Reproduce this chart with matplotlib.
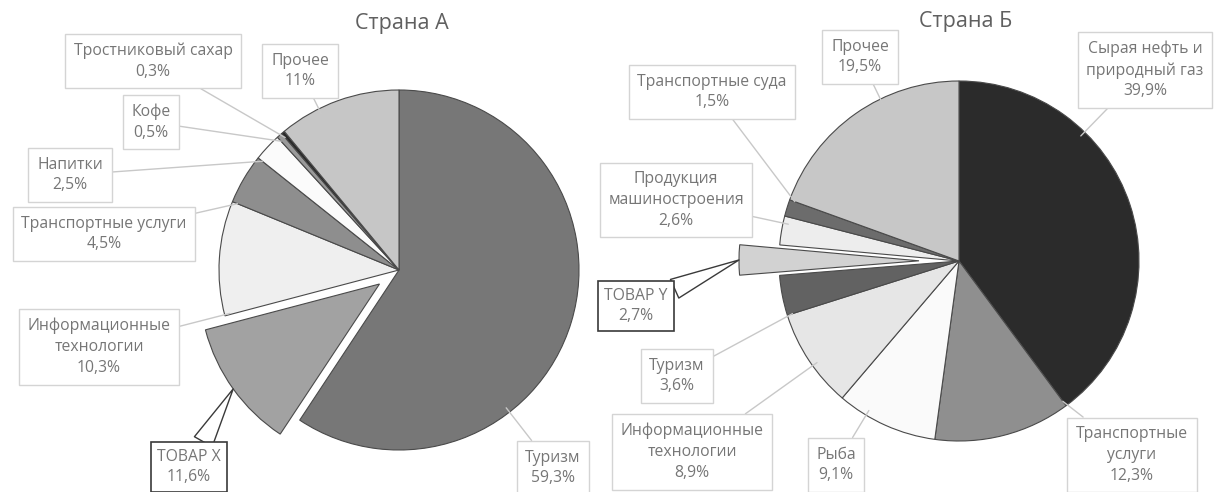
import math
import matplotlib
matplotlib.use("Agg")
import matplotlib.pyplot as plt

plt.rcParams['font.family'] = ['Open Sans', 'DejaVu Sans']

W, H = 1217, 492

# ---------------- data ----------------
title_a = 'Страна А'
labels_a = ['Туризм', 'ТОВАР X', 'Информационные\nтехнологии', 'Транспортные услуги',
            'Напитки', 'Кофе', 'Тростниковый сахар', 'Прочее']
values_a = [59.3, 11.6, 10.3, 4.5, 2.5, 0.5, 0.3, 11.0]

title_b = 'Страна Б'
labels_b = ['Сырая нефть и\nприродный газ', 'Транспортные\nуслуги', 'Рыба',
            'Информационные\nтехнологии', 'Туризм', 'ТОВАР Y',
            'Продукция\nмашиностроения', 'Транспортные суда', 'Прочее']
values_b = [39.9, 12.3, 9.1, 8.9, 3.6, 2.7, 2.6, 1.5, 19.5]

# ---------------- styles / layout ----------------
colors_a = ['#777777', '#a2a2a2', '#efefef', '#8e8e8e', '#fbfbfb', '#9a9a9a', '#2a2a2a', '#c6c6c6']
colors_b = ['#2b2b2b', '#8f8f8f', '#fafafa', '#e6e6e6', '#626262', '#d2d2d2', '#ededed', '#6c6c6c', '#c7c7c7']
explode_a = [0, 24, 0, 0, 0, 0, 0, 0]
explode_b = [0, 0, 0, 0, 0, 40, 0, 0, 0]
highlight_a = [False, True, False, False, False, False, False, False]
highlight_b = [False, False, False, False, False, True, False, False, False]

# label box centres in pixel coords (y downwards)
pos_a = [(553, 468), (189, 467), (99, 347), (104, 234), (70, 175), (151, 122), (153, 61), (300, 71)]
pos_b = [(1145, 70), (1132, 455), (836, 465), (692, 452), (677, 376), (636, 306),
         (676, 200), (712, 92), (860, 57)]

center_a = (399, 270)
center_b = (959, 261)
radius = 180

TEXT = '#767676'
FS = 11.3

fig = plt.figure(figsize=(W / 100, H / 100), dpi=100)
ax = fig.add_axes([0, 0, 1, 1])
ax.set_xlim(0, W)
ax.set_ylim(0, H)
ax.set_aspect('equal')
ax.axis('off')


def fmt(v):
    return f"{v:g}".replace('.', ',') + '%'


def anchor_point(w, px, py, mid=False):
    cx, cy = w.center
    t1, t2 = w.theta1, w.theta2
    if mid:
        a = 0.5 * (t1 + t2)
        r = w.r
    else:
        a = math.degrees(math.atan2(py - cy, px - cx))
        a_rel = (a - t1) % 360
        span = (t2 - t1) % 360 or 360
        if a_rel > span:
            d1 = 360 - a_rel
            d2 = a_rel - span
            a = t1 if d1 < d2 else t2
        else:
            a = t1 + a_rel
        r = w.r * 0.97
    return cx + r * math.cos(math.radians(a)), cy + r * math.sin(math.radians(a))


def draw(values, labels, colors, explode, highlight, pos, center, title, title_xy):
    cx, cy = center
    wedges, _ = ax.pie(values, colors=colors, explode=explode, startangle=90,
                       counterclock=False, center=(cx, H - cy), radius=radius,
                       wedgeprops=dict(edgecolor='#4a4a4a', linewidth=0.8),
                       frame=True)
    for w, lab, v, hl, (px, py) in zip(wedges, labels, values, highlight, pos):
        tx, ty = px, H - py
        ax_, ay_ = anchor_point(w, tx, ty, mid=hl)
        txt = lab + '\n' + fmt(v)
        if hl:
            ax.annotate(txt, xy=(ax_, ay_), xytext=(tx, ty), ha='center', va='center',
                        fontsize=FS, color=TEXT, linespacing=1.4,
                        bbox=dict(boxstyle='square,pad=0.4', fc='white', ec='#3a3a3a', lw=1.2),
                        arrowprops=dict(arrowstyle='wedge,tail_width=1.3,shrink_factor=0.5',
                                        fc='white', ec='#3a3a3a', lw=1.0,
                                        shrinkA=0, shrinkB=0), zorder=5)
        else:
            ax.annotate(txt, xy=(ax_, ay_), xytext=(tx, ty), ha='center', va='center',
                        fontsize=FS, color=TEXT, linespacing=1.4,
                        bbox=dict(boxstyle='square,pad=0.55', fc='white', ec='#d4d4d4', lw=1.0),
                        arrowprops=dict(arrowstyle='-', color='#c8c8c8', lw=1.0,
                                        shrinkA=0, shrinkB=0), zorder=5)
    ax.text(title_xy[0], H - title_xy[1], title, ha='center', va='center',
            fontsize=15.5, color='#606060')


draw(values_a, labels_a, colors_a, explode_a, highlight_a, pos_a, center_a, title_a, (402, 24))
draw(values_b, labels_b, colors_b, explode_b, highlight_b, pos_b, center_b, title_b, (966, 22))

ax.set_xlim(0, W)
ax.set_ylim(0, H)
ax.axis('off')

fig.savefig('out.png', dpi=100, facecolor='white')
